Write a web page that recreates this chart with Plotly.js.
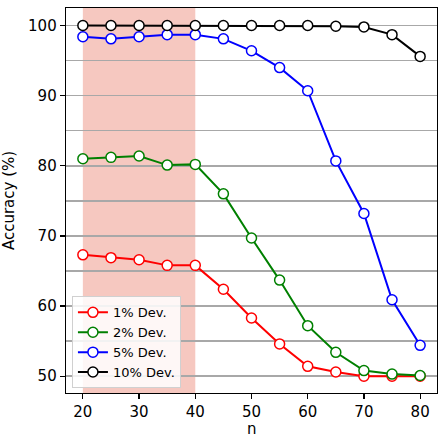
<!DOCTYPE html>
<html>
<head>
<meta charset="utf-8">
<script src="https://cdn.plot.ly/plotly-3.0.1.min.js"></script>
<style>html,body{margin:0;padding:0;background:#fff;}#chart{width:444px;height:438px;}</style>
</head>
<body>
<div id="chart"></div>
<script>
const nValues = [20, 25, 30, 35, 40, 45, 50, 55, 60, 65, 70, 75, 80];
const dev1 = [67.3, 66.9, 66.6, 65.8, 65.8, 62.4, 58.3, 54.6, 51.4, 50.6, 50.0, 50.0, 50.0];
const dev2 = [81.0, 81.2, 81.4, 80.1, 80.2, 76.0, 69.7, 63.7, 57.2, 53.4, 50.8, 50.3, 50.1];
const dev5 = [98.4, 98.1, 98.4, 98.7, 98.7, 98.1, 96.4, 94.0, 90.7, 80.7, 73.2, 60.9, 54.4];
const dev10 = [100.0, 100.0, 100.0, 100.0, 100.0, 100.0, 100.0, 100.0, 100.0, 99.9, 99.8, 98.7, 95.6];
const seriesNames = ['1% Dev.', '2% Dev.', '5% Dev.', '10% Dev.'];
const seriesColors = ['#ff0000', '#008000', '#0000ff', '#000000'];
const shadedRange = [20, 40];
const yTicks = [50, 60, 70, 80, 90, 100];
const xTicks = [20, 30, 40, 50, 60, 70, 80];
const xTitle = 'n';
const yTitle = 'Accuracy (%)';

const allSeries = [dev1, dev2, dev5, dev10];
const traces = allSeries.map((ys, i) => ({
  x: nValues, y: ys, name: seriesNames[i], type: 'scatter', mode: 'lines+markers',
  line: {color: seriesColors[i], width: 2},
  marker: {symbol: 'circle', size: 10, color: '#ffffff', line: {color: seriesColors[i], width: 1.5}}
}));

const font = {family: 'DejaVu Sans', size: 15, color: '#000'};
const layout = {
  width: 444, height: 438,
  margin: {l: 66, r: 7, t: 8, b: 45},
  paper_bgcolor: '#fff', plot_bgcolor: '#fff',
  font: font,
  showlegend: true,
  legend: {
    x: 0.016, y: 0.012, xanchor: 'left', yanchor: 'bottom',
    bgcolor: 'rgba(255,255,255,0.85)', bordercolor: '#d0d0d0', borderwidth: 1,
    font: {family: 'DejaVu Sans', size: 13, color: '#000'},
    itemwidth: 30, tracegroupgap: 0
  },
  xaxis: {
    range: [17, 83], tickvals: xTicks, ticks: 'outside', ticklen: 5, tickcolor: '#000', tickwidth: 1.2,
    showgrid: false, zeroline: false, showline: true, mirror: true, linecolor: '#000', linewidth: 1.3,
    tickfont: font
  },
  yaxis: {
    range: [47.6, 102.5], tickvals: yTicks, ticks: 'outside', ticklen: 5, tickcolor: '#000', tickwidth: 1.2,
    showgrid: true, gridcolor: '#a8a8a8', gridwidth: 1.5,
    minor: {dtick: 5, tick0: 50, showgrid: true, gridcolor: '#a8a8a8', gridwidth: 1.5},
    zeroline: false, showline: true, mirror: true, linecolor: '#000', linewidth: 1.3,
    title: {text: yTitle, font: font, standoff: 10}, tickfont: font
  },
  annotations: [{
    text: xTitle, xref: 'paper', yref: 'paper', x: 0.5, y: 0, xanchor: 'center', yanchor: 'top',
    yshift: -25, showarrow: false, font: font
  }],
  shapes: [{
    type: 'rect', xref: 'x', yref: 'paper', x0: shadedRange[0], x1: shadedRange[1], y0: 0, y1: 1,
    fillcolor: '#f6c8c0', line: {width: 0}, layer: 'below'
  }]
};
Plotly.newPlot('chart', traces, layout, {staticPlot: true});
</script>
</body>
</html>
